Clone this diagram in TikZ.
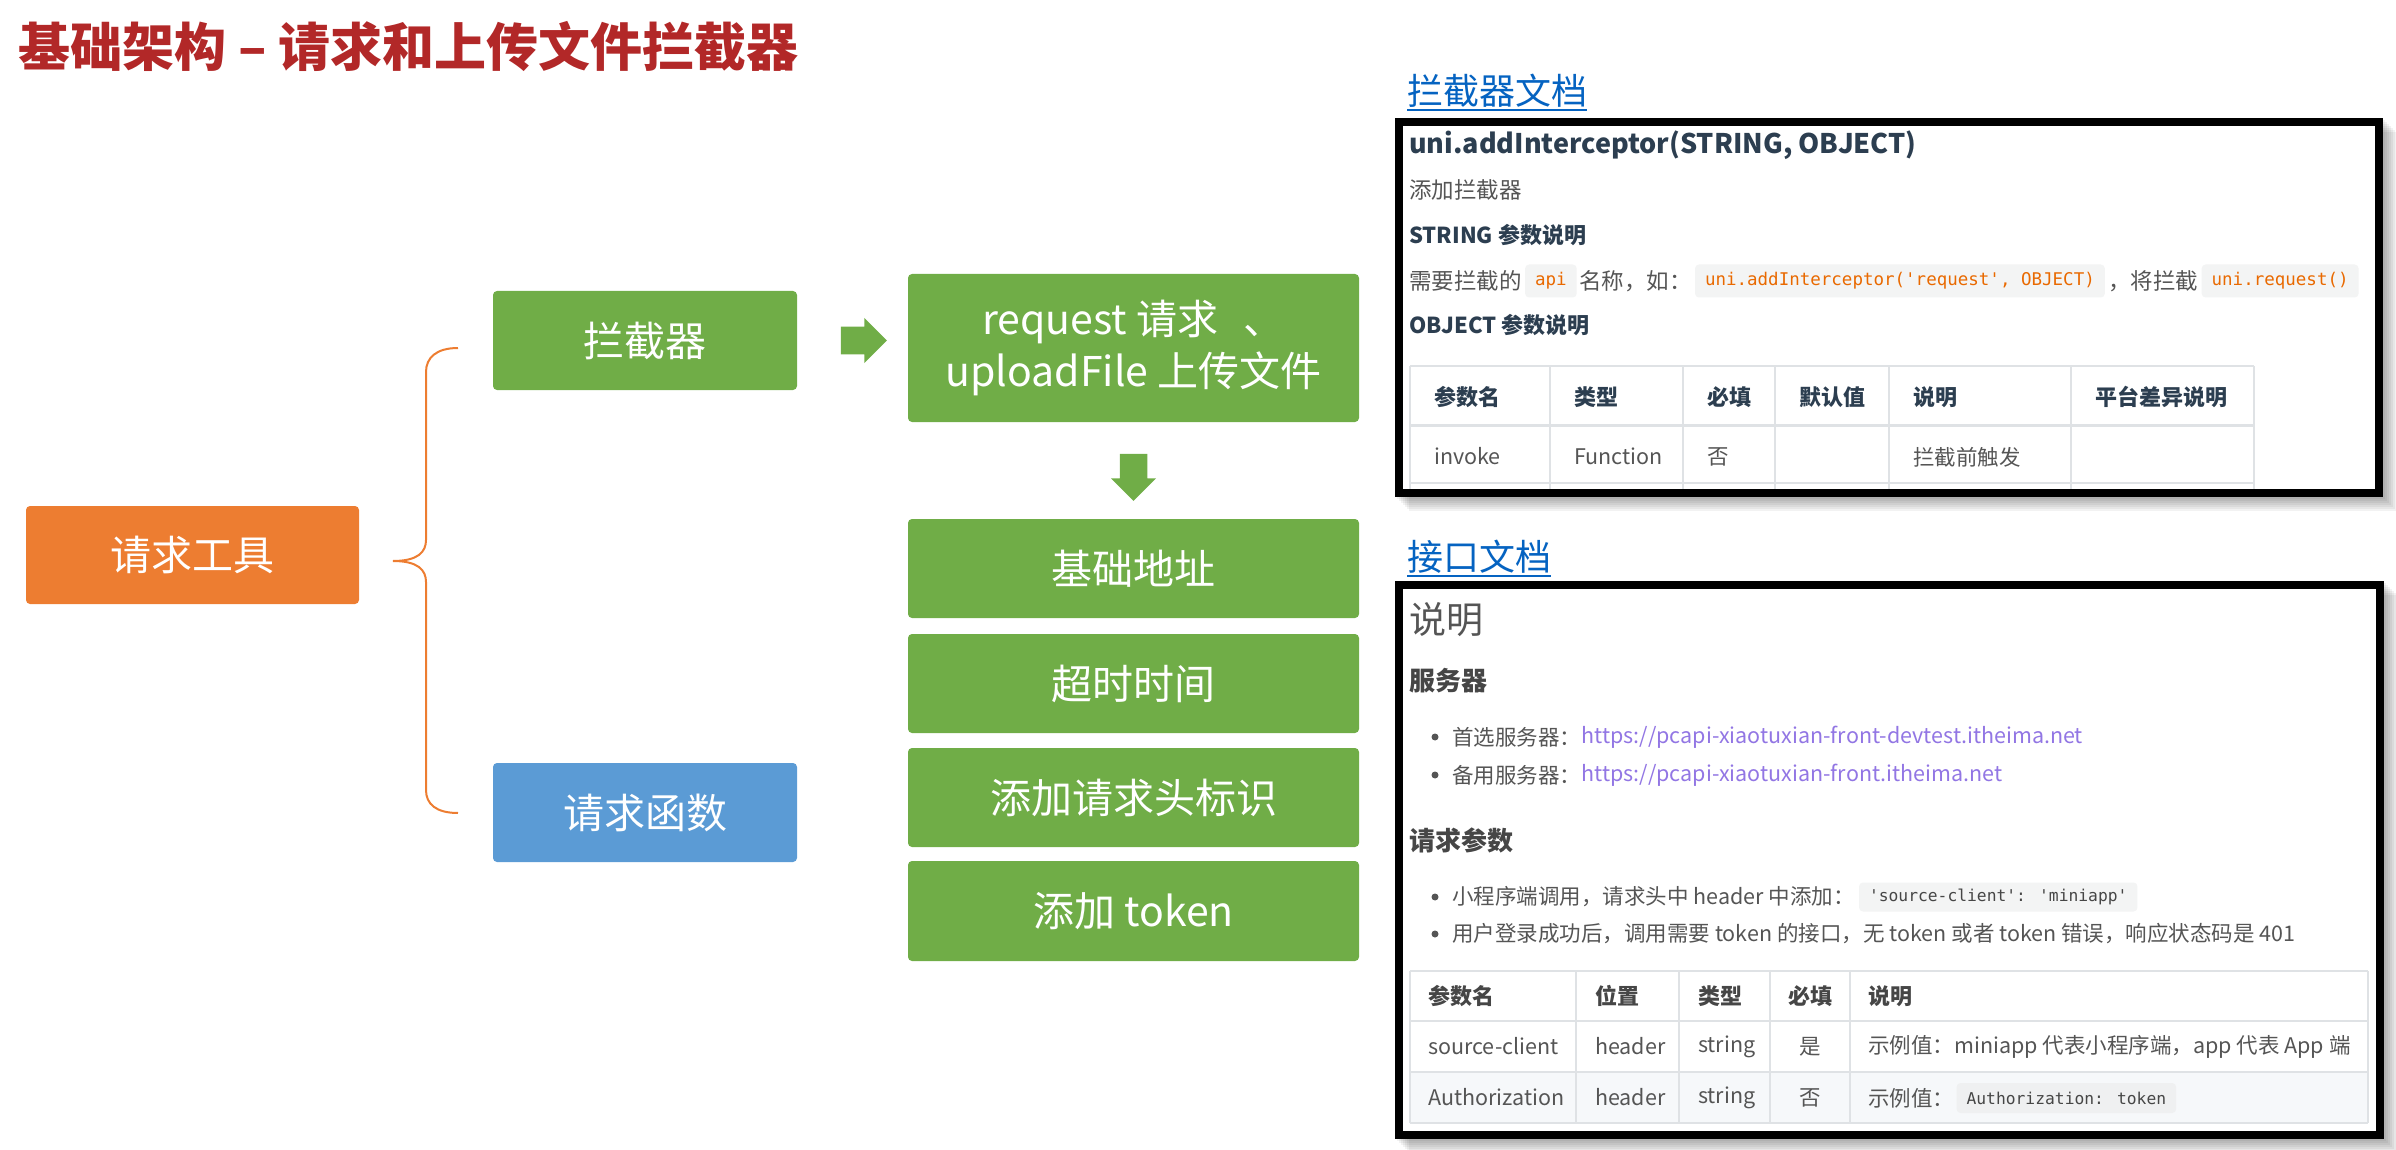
\documentclass[tikz,border=0pt]{standalone}
\usepackage{fontspec}
\setmainfont{Noto Sans CJK SC}
\newfontfamily\codefont{DejaVu Sans Mono}
\usetikzlibrary{shapes.arrows,calc}
\definecolor{titlered}{RGB}{178,40,40}
\definecolor{orangebox}{RGB}{237,125,49}
\definecolor{greenbox}{RGB}{112,173,71}
\definecolor{bluebox}{RGB}{91,155,213}
\definecolor{linkblue}{RGB}{5,99,193}
\definecolor{headc}{RGB}{44,62,80}
\definecolor{bodyc}{RGB}{85,85,85}
\definecolor{head2}{RGB}{70,70,70}
\definecolor{codeorange}{RGB}{233,105,0}
\definecolor{codebg}{RGB}{243,244,244}
\definecolor{gridc}{RGB}{223,226,229}
\definecolor{urlc}{RGB}{146,118,228}
\definecolor{rowbg}{RGB}{246,248,250}
\newcommand\fsz[2]{\fontsize{#1}{#2}\selectfont}
\begin{document}
\begin{tikzpicture}[x=1pt,y=-1pt,
  box/.style={fill=#1, rounded corners=4pt, text=white, inner sep=0pt, align=center, font=\fsz{41}{52}},
  t/.style={anchor=west, inner sep=0pt, execute at begin node={\vphantom{国}}},
  body/.style={t, font=\fsz{22.5}{27}, text=bodyc},
  body2/.style={t, font=\fsz{21.5}{26}, text=bodyc},
  bhead/.style={t, font=\fsz{22}{26}\bfseries, text=headc},
  code/.style={anchor=west, fill=codebg, rounded corners=4pt, inner xsep=10pt, inner ysep=0pt,
     minimum height=33pt, font=\codefont\fsz{17.5}{20}},
  grid/.style={draw=gridc, line width=2pt},
  blockarrow/.style={single arrow, fill=greenbox, inner sep=11pt, minimum width=45pt,
     single arrow tip angle=90},
  bracec/.style={draw=orangebox, line width=2pt},
  frame/.style={line width=8pt, draw=black},
]
\useasboundingbox (0,0) rectangle (2396,1150);

% title
\node[t, font=\fsz{52}{62}\bfseries, text=titlered] (title) at (18,47) {基础架构 – 请求和上传文件拦截器};

% left tree
\node[box=orangebox, minimum width=333pt, minimum height=98pt] (tool) at (192.5,555) {请求工具};
\node[box=greenbox, minimum width=304pt, minimum height=99pt] (lj) at (645,340.5) {拦截器};
\node[box=bluebox, minimum width=304pt, minimum height=99pt] (qh) at (645,812.5) {请求函数};
\node[box=greenbox, minimum width=451pt, minimum height=148pt] (req) at (1133.5,348) {request 请求\hspace{0.4em} 、\\uploadFile 上传文件};
\node[box=greenbox, minimum width=451pt, minimum height=99pt] (jc) at (1133.5,568.5) {基础地址};
\node[box=greenbox, minimum width=451pt, minimum height=99pt] (cs) at (1133.5,683.5) {超时时间};
\node[box=greenbox, minimum width=451pt, minimum height=99pt] (tj) at (1133.5,797.5) {添加请求头标识};
\node[box=greenbox, minimum width=451pt, minimum height=100pt] (tk) at (1133.5,911) {添加 token};

% brace
\coordinate (btop) at (458,348);
\coordinate (btip) at (393,561);
\coordinate (bbot) at (458,813);
\draw[bracec] (btop) .. controls (436,348) and (426,358) .. (426,372) -- (426,540)
  .. controls (426,552) and (418,561) .. (btip)
  .. controls (418,561) and (426,570) .. (426,582) -- (426,790)
  .. controls (426,804) and (436,813) .. (bbot);

% block arrows
\node[blockarrow, minimum height=46pt] (ar1) at ($(lj.east)!0.54!(lj.east -| req.west)$) {};
\node[blockarrow, minimum height=47pt, rotate=-90] (ar2) at ($(req.south)!0.5!(jc.north)$) {};

% ---------- doc box 1 ----------
\node[t, font=\fsz{36}{43}, text=linkblue] (lk1) at (1407,91) {拦截器文档};
\draw[linkblue, line width=2.5pt] ([yshift=-2pt]lk1.south west) -- ([yshift=-2pt]lk1.south east);

\foreach \i in {1,...,7} \fill[black, opacity=0.05] (1395+\i*2,118+\i*2) rectangle (2383+\i*2,497+\i*2);
\fill[white] (1395,118) rectangle (2383,497);
\begin{scope}
\clip (1403,126) rectangle (2375,489);
\node[t, font=\fsz{27}{32}\bfseries, text=headc] (b1t) at (1409,145) {uni.addInterceptor(STRING, OBJECT)};
\node[body] (b1s) at (1409,190) {添加拦截器};
\node[bhead] (b1h1) at (1409,235) {STRING 参数说明};
\node[body] (b1a) at (1409,281) {需要拦截的};
\node[code, text=codeorange, xshift=3pt] (c1) at (b1a.east) {api};
\node[body, xshift=2pt] (b1b) at (c1.east) {名称，如：};
\node[code, text=codeorange, xshift=3pt] (c2) at (b1b.east) {uni.addInterceptor('request', OBJECT)};
\node[body, xshift=3pt] (b1c) at (c2.east) {，将拦截};
\node[code, text=codeorange, xshift=3pt] (c3) at (b1c.east) {uni.request()};
\node[bhead] (b1h2) at (1409,325) {OBJECT 参数说明};
% table 1
\foreach \x in {1410,1550,1683,1775,1889,2071,2254} \draw[grid] (\x,366) -- (\x,495);
\draw[grid] (1410,366) -- (2254,366);
\draw[grid, line width=3pt] (1410,425) -- (2254,425);
\draw[grid] (1410,483) -- (2254,483);
\node[bhead] (h11) at (1434,397) {参数名};
\node[bhead] (h12) at (1574,397) {类型};
\node[bhead] (h13) at (1707,397) {必填};
\node[bhead] (h14) at (1799,397) {默认值};
\node[bhead] (h15) at (1913,397) {说明};
\node[bhead] (h16) at (2095,397) {平台差异说明};
\node[body2] (r11) at (1434,457) {invoke};
\node[body2] (r12) at (1574,457) {Function};
\node[body2] (r13) at (1707,457) {否};
\node[body2] (r15) at (1913,457) {拦截前触发};
\end{scope}
\draw[frame] (1399,122) rectangle (2379,493);

% ---------- doc box 2 ----------
\node[t, font=\fsz{36}{43}, text=linkblue] (lk2) at (1407,557) {接口文档};
\draw[linkblue, line width=2.5pt] ([yshift=-2pt]lk2.south west) -- ([yshift=-2pt]lk2.south east);

\foreach \i in {1,...,7} \fill[black, opacity=0.05] (1395+\i*2,581+\i*2) rectangle (2384+\i*2,1139+\i*2);
\fill[white] (1395,581) rectangle (2384,1139);
\node[t, font=\fsz{37}{44}, text=bodyc] (d2t) at (1409,620) {说明};
\node[t, font=\fsz{26}{31}\bfseries, text=head2] (d2h1) at (1409,681) {服务器};
\fill[bodyc] (1435,737) circle (3.5);
\node[body2] (s1) at (1452,737) {首选服务器：};
\node[body2, text=urlc] (u1) at (s1.east) {https://pcapi-xiaotuxian-front-devtest.itheima.net};
\fill[bodyc] (1435,775) circle (3.5);
\node[body2] (s2) at (1452,775) {备用服务器：};
\node[body2, text=urlc] (u2) at (s2.east) {https://pcapi-xiaotuxian-front.itheima.net};
\node[t, font=\fsz{26}{31}\bfseries, text=head2] (d2h2) at (1409,840) {请求参数};
\fill[bodyc] (1435,897) circle (3.5);
\node[body2] (p1) at (1452,897) {小程序端调用，请求头中 header 中添加：};
\node[code, text=head2, font=\codefont\fsz{16.3}{19}, minimum height=29pt, xshift=4pt] (c4) at (p1.east) {'source-client': 'miniapp'};
\fill[bodyc] (1435,934) circle (3.5);
\node[body2] (p2) at (1452,934) {用户登录成功后，调用需要 token 的接口，无 token 或者 token 错误，响应状态码是 401};
% table 2
\fill[rowbg] (1410,1072) rectangle (2368,1123);
\foreach \x in {1410,1576,1679,1770,1850,2368} \draw[grid] (\x,971) -- (\x,1123);
\foreach \y in {971,1021,1072,1123} \draw[grid] (1410,\y) -- (2368,\y);
\node[bhead, text=head2] (h21) at (1428,996) {参数名};
\node[bhead, text=head2] (h22) at (1595,996) {位置};
\node[bhead, text=head2] (h23) at (1698,996) {类型};
\node[bhead, text=head2, anchor=center] (h24) at (1810,996) {必填};
\node[bhead, text=head2] (h25) at (1868,996) {说明};
\node[body2] (r21) at (1428,1047) {source-client};
\node[body2] (r22) at (1595,1047) {header};
\node[body2] (r23) at (1698,1047) {string};
\node[body2, anchor=center] (r24) at (1810,1047) {是};
\node[body2] (r25) at (1868,1047) {示例值：miniapp 代表小程序端，app 代表 App 端};
\node[body2] (r31) at (1428,1098) {Authorization};
\node[body2] (r32) at (1595,1098) {header};
\node[body2] (r33) at (1698,1098) {string};
\node[body2, anchor=center] (r34) at (1810,1098) {否};
\node[body2] (r35) at (1868,1098) {示例值：};
\node[code, text=head2, font=\codefont\fsz{16.3}{19}, minimum height=30pt, xshift=2pt, fill=codebg!80!gridc] (c5) at (r35.east) {Authorization: token};
\draw[frame] (1399,585) rectangle (2380,1135);
\end{tikzpicture}
\end{document}
